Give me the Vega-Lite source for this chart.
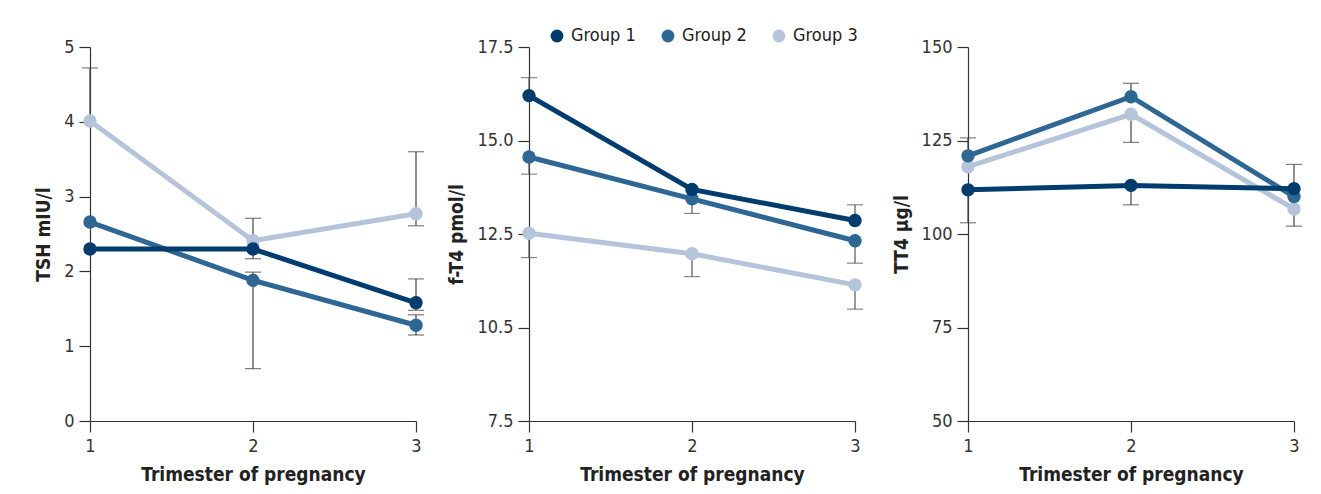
{
  "$schema": "https://vega.github.io/schema/vega-lite/v6.json",
  "padding": {"left": 34, "top": 27, "right": 5, "bottom": 5},
  "bounds": "flush",
  "spacing": 113,
  "background": "white",
  "config": {
    "font": "Liberation Sans Narrow, DejaVu Sans Condensed, Roboto Condensed, Roboto, sans-serif",
    "view": {"stroke": null},
    "axis": {
      "labelFont": "Liberation Sans Narrow, DejaVu Sans Condensed, Roboto Condensed, Roboto, sans-serif",
      "labelFontSize": 18,
      "labelColor": "#333333",
      "labelOverlap": false,
      "labelFlush": false,
      "titleFont": "Liberation Sans Narrow, DejaVu Sans Condensed, Roboto Condensed, Roboto, sans-serif",
      "titleFontSize": 19,
      "titleFontWeight": "bold",
      "titleColor": "#222222",
      "domainColor": "#333333",
      "domainWidth": 1.2,
      "tickColor": "#333333",
      "tickWidth": 1.2,
      "tickSize": 11,
      "grid": false,
      "labelPadding": 5,
      "titlePadding": 10
    }
  },
  "datasets": {
    "points": [
      {"panel": "TSH", "trimester": 1, "group": "Group 3", "value": 4.01},
      {"panel": "TSH", "trimester": 2, "group": "Group 3", "value": 2.41},
      {"panel": "TSH", "trimester": 3, "group": "Group 3", "value": 2.77},
      {"panel": "TSH", "trimester": 1, "group": "Group 2", "value": 2.66},
      {"panel": "TSH", "trimester": 2, "group": "Group 2", "value": 1.88},
      {"panel": "TSH", "trimester": 3, "group": "Group 2", "value": 1.28},
      {"panel": "TSH", "trimester": 1, "group": "Group 1", "value": 2.30},
      {"panel": "TSH", "trimester": 2, "group": "Group 1", "value": 2.30},
      {"panel": "TSH", "trimester": 3, "group": "Group 1", "value": 1.58},
      {"panel": "FT4", "trimester": 1, "group": "Group 3", "value": 12.52},
      {"panel": "FT4", "trimester": 2, "group": "Group 3", "value": 11.97},
      {"panel": "FT4", "trimester": 3, "group": "Group 3", "value": 11.14},
      {"panel": "FT4", "trimester": 1, "group": "Group 2", "value": 14.56},
      {"panel": "FT4", "trimester": 2, "group": "Group 2", "value": 13.44},
      {"panel": "FT4", "trimester": 3, "group": "Group 2", "value": 12.32},
      {"panel": "FT4", "trimester": 1, "group": "Group 1", "value": 16.2},
      {"panel": "FT4", "trimester": 2, "group": "Group 1", "value": 13.69},
      {"panel": "FT4", "trimester": 3, "group": "Group 1", "value": 12.86},
      {"panel": "TT4", "trimester": 1, "group": "Group 3", "value": 118},
      {"panel": "TT4", "trimester": 2, "group": "Group 3", "value": 132},
      {"panel": "TT4", "trimester": 3, "group": "Group 3", "value": 106.7},
      {"panel": "TT4", "trimester": 1, "group": "Group 2", "value": 120.9},
      {"panel": "TT4", "trimester": 2, "group": "Group 2", "value": 136.7},
      {"panel": "TT4", "trimester": 3, "group": "Group 2", "value": 110},
      {"panel": "TT4", "trimester": 1, "group": "Group 1", "value": 111.8},
      {"panel": "TT4", "trimester": 2, "group": "Group 1", "value": 113},
      {"panel": "TT4", "trimester": 3, "group": "Group 1", "value": 112.1}
    ],
    "errors": [
      {"panel": "TSH", "trimester": 1, "group": "Group 3", "value": 4.01, "bound": 4.72},
      {"panel": "TSH", "trimester": 2, "group": "Group 3", "value": 2.41, "bound": 2.71},
      {"panel": "TSH", "trimester": 2, "group": "Group 1", "value": 2.30, "bound": 2.17},
      {"panel": "TSH", "trimester": 2, "group": "Group 2", "value": 1.88, "bound": 1.99},
      {"panel": "TSH", "trimester": 2, "group": "Group 2", "value": 1.88, "bound": 0.70},
      {"panel": "TSH", "trimester": 3, "group": "Group 3", "value": 2.77, "bound": 3.60},
      {"panel": "TSH", "trimester": 3, "group": "Group 3", "value": 2.77, "bound": 2.61},
      {"panel": "TSH", "trimester": 3, "group": "Group 1", "value": 1.58, "bound": 1.90},
      {"panel": "TSH", "trimester": 3, "group": "Group 1", "value": 1.58, "bound": 1.48},
      {"panel": "TSH", "trimester": 3, "group": "Group 2", "value": 1.28, "bound": 1.42},
      {"panel": "TSH", "trimester": 3, "group": "Group 2", "value": 1.28, "bound": 1.15},
      {"panel": "FT4", "trimester": 1, "group": "Group 1", "value": 16.2, "bound": 16.68},
      {"panel": "FT4", "trimester": 1, "group": "Group 2", "value": 14.56, "bound": 14.1},
      {"panel": "FT4", "trimester": 1, "group": "Group 3", "value": 12.52, "bound": 11.87},
      {"panel": "FT4", "trimester": 2, "group": "Group 2", "value": 13.44, "bound": 13.05},
      {"panel": "FT4", "trimester": 2, "group": "Group 3", "value": 11.97, "bound": 11.36},
      {"panel": "FT4", "trimester": 3, "group": "Group 1", "value": 12.86, "bound": 13.28},
      {"panel": "FT4", "trimester": 3, "group": "Group 2", "value": 12.32, "bound": 11.72},
      {"panel": "FT4", "trimester": 3, "group": "Group 3", "value": 11.14, "bound": 10.49},
      {"panel": "TT4", "trimester": 1, "group": "Group 2", "value": 120.9, "bound": 125.7},
      {"panel": "TT4", "trimester": 1, "group": "Group 1", "value": 111.8, "bound": 103},
      {"panel": "TT4", "trimester": 2, "group": "Group 2", "value": 136.7, "bound": 140.3},
      {"panel": "TT4", "trimester": 2, "group": "Group 3", "value": 132, "bound": 124.5},
      {"panel": "TT4", "trimester": 2, "group": "Group 1", "value": 113, "bound": 107.8},
      {"panel": "TT4", "trimester": 3, "group": "Group 1", "value": 112.1, "bound": 118.6},
      {"panel": "TT4", "trimester": 3, "group": "Group 3", "value": 106.7, "bound": 102.1}
    ]
  },
  "resolve": {"scale": {"color": "independent"}, "legend": {"color": "independent"}},
  "hconcat": [
    {
      "width": 326,
      "height": 374,
      "encoding": {
        "x": {"field": "trimester", "type": "ordinal", "scale": {"type": "point", "domain": [1, 2, 3], "padding": 0}, "axis": {"labelAngle": 0, "title": "Trimester of pregnancy"}}
      },
      "layer": [
        {
          "data": {"name": "errors"},
          "transform": [{"filter": "datum.panel == 'TSH'"}],
          "mark": {"type": "rule", "color": "#444444", "strokeWidth": 1.2},
          "encoding": {
            "y": {"field": "value", "type": "quantitative", "scale": {"domain": [0, 5], "nice": false}, "axis": {"values": [0, 1, 2, 3, 4, 5], "format": "d", "title": "TSH mIU/l"}},
            "y2": {"field": "bound"}
          }
        },
        {
          "data": {"name": "errors"},
          "transform": [{"filter": "datum.panel == 'TSH'"}],
          "mark": {"type": "tick", "orient": "horizontal", "size": 16, "thickness": 1.2, "color": "#444444"},
          "encoding": {
            "y": {"field": "bound", "type": "quantitative"}
          }
        },
        {
          "data": {"name": "points"},
          "transform": [{"filter": "datum.panel == 'TSH'"}],
          "mark": {"type": "line", "strokeWidth": 5},
          "encoding": {
            "y": {"field": "value", "type": "quantitative"},
            "color": {"field": "group", "type": "nominal", "scale": {"domain": ["Group 1", "Group 2", "Group 3"], "range": ["#003d6e", "#2e6694", "#b5c4da"]}, "legend": null},
            "detail": {"field": "group"}
          }
        },
        {
          "data": {"name": "points"},
          "transform": [{"filter": "datum.panel == 'TSH'"}],
          "mark": {"type": "circle", "size": 180, "opacity": 1},
          "encoding": {
            "y": {"field": "value", "type": "quantitative"},
            "color": {"field": "group", "type": "nominal", "scale": {"domain": ["Group 1", "Group 2", "Group 3"], "range": ["#003d6e", "#2e6694", "#b5c4da"]}, "legend": null},
            "order": {"field": "group", "sort": "descending"}
          }
        }
      ]
    },
    {
      "width": 326,
      "height": 374,
      "encoding": {
        "x": {"field": "trimester", "type": "ordinal", "scale": {"type": "point", "domain": [1, 2, 3], "padding": 0}, "axis": {"labelAngle": 0, "title": "Trimester of pregnancy"}}
      },
      "layer": [
        {
          "data": {"name": "errors"},
          "transform": [{"filter": "datum.panel == 'FT4'"}],
          "mark": {"type": "rule", "color": "#555555", "strokeWidth": 1.2},
          "encoding": {
            "y": {"field": "value", "type": "quantitative", "scale": {"domain": [7.5, 17.5], "nice": false, "zero": false}, "axis": {"values": [7.5, 10, 12.5, 15, 17.5], "format": ".1f", "labelExpr": "datum.value == 10 ? '10.5' : datum.label", "title": "f-T4 pmol/l"}},
            "y2": {"field": "bound"}
          }
        },
        {
          "data": {"name": "errors"},
          "transform": [{"filter": "datum.panel == 'FT4'"}],
          "mark": {"type": "tick", "orient": "horizontal", "size": 16, "thickness": 1.2, "color": "#555555"},
          "encoding": {
            "y": {"field": "bound", "type": "quantitative"}
          }
        },
        {
          "data": {"name": "points"},
          "transform": [{"filter": "datum.panel == 'FT4'"}],
          "mark": {"type": "line", "strokeWidth": 5},
          "encoding": {
            "y": {"field": "value", "type": "quantitative"},
            "color": {"field": "group", "type": "nominal", "scale": {"domain": ["Group 1", "Group 2", "Group 3"], "range": ["#003d6e", "#2e6694", "#b5c4da"]},
              "legend": {"title": null, "orient": "none", "legendX": 19, "legendY": -20, "direction": "horizontal", "symbolType": "circle", "symbolSize": 165, "symbolStrokeWidth": 0, "symbolOpacity": 1, "labelFont": "Liberation Sans Narrow, DejaVu Sans Condensed, Roboto Condensed, Roboto, sans-serif", "labelFontSize": 18, "labelColor": "#222222", "labelOffset": 5, "columnPadding": 23}},
            "detail": {"field": "group"}
          }
        },
        {
          "data": {"name": "points"},
          "transform": [{"filter": "datum.panel == 'FT4'"}],
          "mark": {"type": "circle", "size": 180, "opacity": 1},
          "encoding": {
            "y": {"field": "value", "type": "quantitative"},
            "color": {"field": "group", "type": "nominal", "scale": {"domain": ["Group 1", "Group 2", "Group 3"], "range": ["#003d6e", "#2e6694", "#b5c4da"]},
              "legend": {"title": null, "orient": "none", "legendX": 19, "legendY": -20, "direction": "horizontal", "symbolType": "circle", "symbolSize": 165, "symbolStrokeWidth": 0, "symbolOpacity": 1, "labelFont": "Liberation Sans Narrow, DejaVu Sans Condensed, Roboto Condensed, Roboto, sans-serif", "labelFontSize": 18, "labelColor": "#222222", "labelOffset": 5, "columnPadding": 23}},
            "order": {"field": "group", "sort": "descending"}
          }
        }
      ]
    },
    {
      "width": 326,
      "height": 374,
      "encoding": {
        "x": {"field": "trimester", "type": "ordinal", "scale": {"type": "point", "domain": [1, 2, 3], "padding": 0}, "axis": {"labelAngle": 0, "title": "Trimester of pregnancy"}}
      },
      "layer": [
        {
          "data": {"name": "errors"},
          "transform": [{"filter": "datum.panel == 'TT4'"}],
          "mark": {"type": "rule", "color": "#444444", "strokeWidth": 1.2},
          "encoding": {
            "y": {"field": "value", "type": "quantitative", "scale": {"domain": [50, 150], "nice": false, "zero": false}, "axis": {"values": [50, 75, 100, 125, 150], "format": "d", "title": "TT4 µg/l"}},
            "y2": {"field": "bound"}
          }
        },
        {
          "data": {"name": "errors"},
          "transform": [{"filter": "datum.panel == 'TT4'"}],
          "mark": {"type": "tick", "orient": "horizontal", "size": 16, "thickness": 1.2, "color": "#444444"},
          "encoding": {
            "y": {"field": "bound", "type": "quantitative"}
          }
        },
        {
          "data": {"name": "points"},
          "transform": [{"filter": "datum.panel == 'TT4'"}],
          "mark": {"type": "line", "strokeWidth": 5},
          "encoding": {
            "y": {"field": "value", "type": "quantitative"},
            "color": {"field": "group", "type": "nominal", "scale": {"domain": ["Group 1", "Group 2", "Group 3"], "range": ["#003d6e", "#2e6694", "#b5c4da"]}, "legend": null},
            "detail": {"field": "group"}
          }
        },
        {
          "data": {"name": "points"},
          "transform": [{"filter": "datum.panel == 'TT4'"}],
          "mark": {"type": "circle", "size": 180, "opacity": 1},
          "encoding": {
            "y": {"field": "value", "type": "quantitative"},
            "color": {"field": "group", "type": "nominal", "scale": {"domain": ["Group 1", "Group 2", "Group 3"], "range": ["#003d6e", "#2e6694", "#b5c4da"]}, "legend": null},
            "order": {"field": "group", "sort": "descending"}
          }
        }
      ]
    }
  ]
}
